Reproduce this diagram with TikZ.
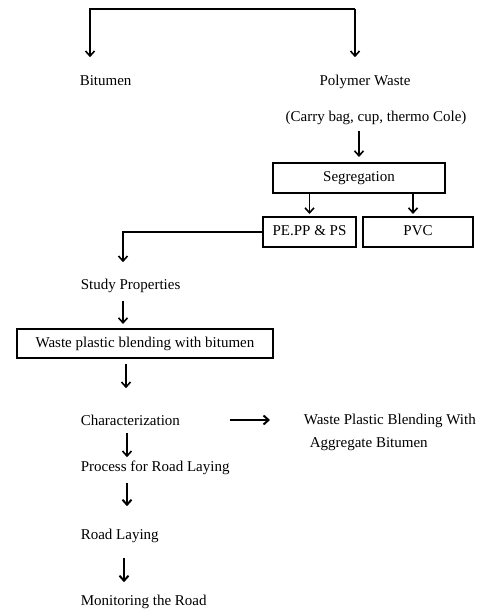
\documentclass[tikz,border=0pt]{standalone}
\usepackage{fontspec}
\setmainfont{Liberation Serif}
\usetikzlibrary{arrows.meta}

\begin{document}
\begin{tikzpicture}[
    x=1pt, y=-1pt,
    >={Straight Barb[length=5pt,width=9pt]},
    every node/.style={font=\fontsize{15}{23}\selectfont, inner sep=0pt,
                       text height=10pt, text depth=3pt},
    line width=1.6pt,
    boxed/.style={draw, line width=2pt, minimum height=30pt}
]

\useasboundingbox (0,0) rectangle (481,609);

% Top split
\coordinate (tl) at (90,9);
\coordinate (tr) at (355,9);

\node[anchor=west] (bit) at (79,82.5) {Bitumen};
\node (poly) at (365,82.5) {Polymer Waste};
\node (carry) at (376,118.5) {(Carry bag, cup, thermo Cole)};

\draw[->, shorten >=18pt] (tr) -- (tl) -- (tl |- bit.north);
\draw[->, shorten >=18pt] (tr) -- (tr |- poly.north);

% Segregation
\node[boxed, minimum width=172pt] (seg) at (359,178) {Segregation};
\node[boxed, minimum width=93pt] (pe) at (309.5,232) {PE.PP \& PS};
\node[boxed, minimum width=110pt] (pvc) at (418,232) {PVC};

\draw[->, shorten <=5pt, shorten >=5pt] (seg.north |- carry.south) -- (seg.north);
\draw[->, shorten >=2pt] (seg.south -| pe.north) -- (pe.north);
\draw[->, shorten >=2pt] (seg.south -| pvc.north) ++(-5,0) -- ([xshift=-5pt]pvc.north);

% Main column
\coordinate (bend) at (123,232);
\node[anchor=west] (study) at (80,285.5) {Study Properties};
\node[boxed, minimum width=256pt, minimum height=29pt] (wpb) at (145,343.5)
    {Waste plastic blending with bitumen};
\node[anchor=west] (char) at (80,421.5) {Characterization};
\node[anchor=west] (proc) at (80,467.5) {Process for Road Laying};
\node[anchor=west] (road) at (80,535.5) {Road Laying};
\node[anchor=west] (mon) at (80,601.5) {Monitoring the Road};
\node[anchor=west, align=left, text height=, text depth=] (blend) at (303,432)
    {Waste Plastic Blending With\\\hspace*{6pt}Aggregate Bitumen};

\draw[->, shorten >=16pt] (pe.west) -- (bend) -- (bend |- study.north);
\draw[->, shorten <=8pt, shorten >=4pt] (study.south -| bend) -- (wpb.north -| bend);
\draw[->, shorten <=5pt, shorten >=26pt] ([xshift=3pt]wpb.south -| bend) -- ([xshift=3pt]char.north -| bend);
\draw[->, shorten <=4pt, shorten >=3pt] ([xshift=4pt]char.south -| bend) -- ([xshift=4pt]proc.north -| bend);
\draw[->, line width=2pt, shorten <=8pt, shorten >=22pt] ([xshift=4pt]proc.south -| bend) -- ([xshift=4pt]road.north -| bend);
\draw[->, line width=2pt, shorten <=15pt, shorten >=12pt] ([xshift=1pt]road.south -| bend) -- ([xshift=1pt]mon.north -| bend);
\draw[->, line width=2pt, shorten <=49pt, shorten >=33pt] ([yshift=1.5pt]char.east) -- ([yshift=1.5pt]char.east -| blend.west);

\end{tikzpicture}
\end{document}
